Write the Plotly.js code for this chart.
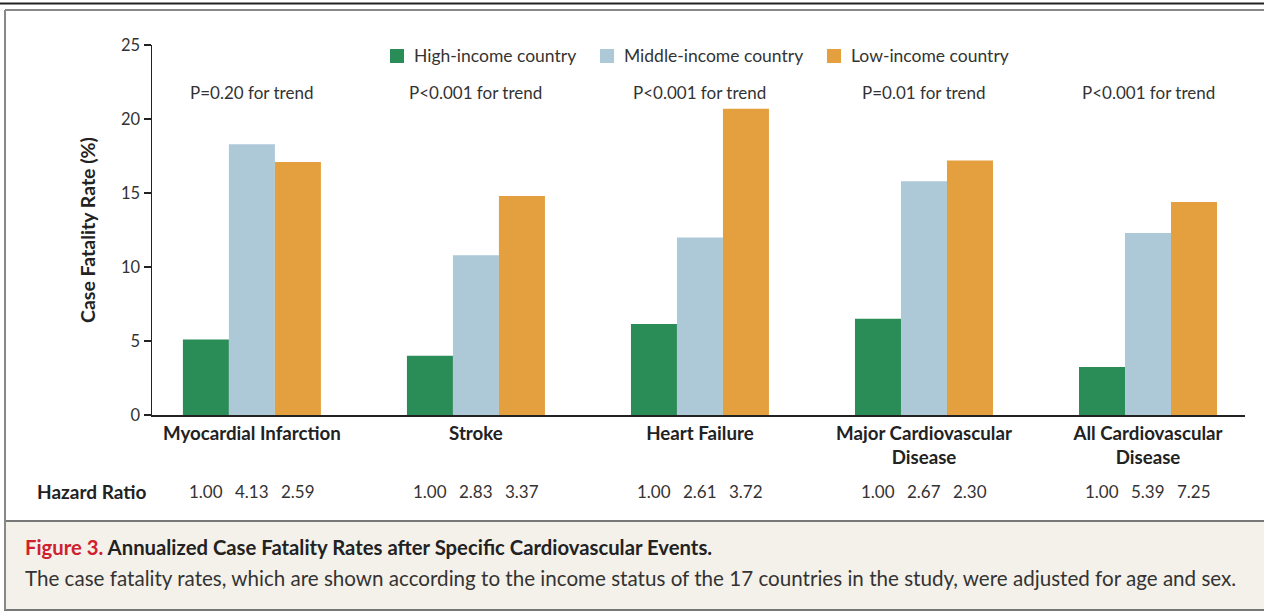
<!DOCTYPE html>
<html>
<head>
<meta charset="utf-8">
<script src="https://cdn.plot.ly/plotly-3.0.1.min.js"></script>
<style>
  html, body { margin: 0; padding: 0; background: #ffffff; }
  #chart { width: 1264px; height: 613px; }
</style>
</head>
<body>
<div id="chart"></div>
<script>
// ---- data ----
const categories = ["Myocardial Infarction", "Stroke", "Heart Failure", "Major Cardiovascular<br>Disease", "All Cardiovascular<br>Disease"];
const seriesNames = ["High-income country", "Middle-income country", "Low-income country"];
const highIncome = [5.1, 4.0, 6.15, 6.5, 3.25];
const middleIncome = [18.3, 10.8, 12.0, 15.8, 12.3];
const lowIncome = [17.1, 14.8, 20.7, 17.2, 14.4];
const pTrend = ["P=0.20 for trend", "P<0.001 for trend", "P<0.001 for trend", "P=0.01 for trend", "P<0.001 for trend"];
const hrHigh = ["1.00", "1.00", "1.00", "1.00", "1.00"];
const hrMiddle = ["4.13", "2.83", "2.61", "2.67", "5.39"];
const hrLow = ["2.59", "3.37", "3.72", "2.30", "7.25"];
const yTicks = [0, 5, 10, 15, 20, 25];

// ---- styling / layout helpers ----
const W = 1264, H = 613;
const L = 152, R = 1245, T = 45, B = 415;
const px = X => (X - L) / (R - L);
const py = Y => (B - Y) / (B - T);
const FONT = "Lato, 'Open Sans', sans-serif";
const TXT = "#333333";
const colors = ["#2a8c57", "#adc9d8", "#e4a03e"];
const barOffset = 0.2054; // one bar width in category units (bargroup of three)
const legendX = [390, 600, 827]; // left edge of each legend swatch (px)

const values = [highIncome, middleIncome, lowIncome];
const traces = values.map((v, i) => ({
  type: "bar",
  name: seriesNames[i],
  x: categories,
  y: v,
  marker: { color: colors[i], line: { width: 0 } },
  hoverinfo: "x+y+name",
  showlegend: false
}));

const annotations = [];
categories.forEach((c, i) => {
  annotations.push({
    x: i, xref: "x", y: py(92), yref: "paper", text: pTrend[i],
    showarrow: false, xanchor: "center", yanchor: "middle",
    font: { family: FONT, size: 17, color: TXT }
  });
  [hrHigh, hrMiddle, hrLow].forEach((arr, k) => {
    annotations.push({
      x: i + (k - 1) * barOffset, xref: "x", y: py(491), yref: "paper", text: arr[i],
      showarrow: false, xanchor: "center", yanchor: "middle",
      font: { family: FONT, size: 17, color: TXT }
    });
  });
});
annotations.push({
  x: px(91), xref: "paper", y: py(491), yref: "paper", text: "Hazard Ratio",
  showarrow: false, xanchor: "center", yanchor: "middle",
  font: { family: FONT, size: 19, color: "#222", weight: 700 }
});
annotations.push({
  x: px(23), xref: "paper", y: py(547), yref: "paper",
  text: "<span style='color:#d0202e'>Figure 3.</span> Annualized Case Fatality Rates after Specific Cardiovascular Events.",
  showarrow: false, xanchor: "left", yanchor: "middle",
  font: { family: FONT, size: 20.3, color: "#222", weight: 700 }
});
annotations.push({
  x: px(23), xref: "paper", y: py(578), yref: "paper",
  text: "The case fatality rates, which are shown according to the income status of the 17 countries in the study, were adjusted for age and sex.",
  showarrow: false, xanchor: "left", yanchor: "middle",
  font: { family: FONT, size: 20.6, color: TXT }
});

const shapes = [
  { type: "line", xref: "paper", yref: "paper", x0: px(0), x1: px(W), y0: py(3.5), y1: py(3.5), line: { color: "#222", width: 2 } },
  { type: "line", xref: "paper", yref: "paper", x0: px(5), x1: px(W), y0: py(10), y1: py(10), line: { color: "#888", width: 2 } },
  { type: "line", xref: "paper", yref: "paper", x0: px(5), x1: px(5), y0: py(10), y1: py(610), line: { color: "#888", width: 2 } },
  { type: "rect", xref: "paper", yref: "paper", x0: px(5), x1: px(W + 5), y0: py(521), y1: py(610), fillcolor: "#f4f1ea", line: { color: "#777", width: 2 }, layer: "below" }
];

// legend: swatch + label for each series
seriesNames.forEach((name, i) => {
  shapes.push({
    type: "rect", xref: "paper", yref: "paper",
    x0: px(legendX[i]), x1: px(legendX[i] + 14), y0: py(49), y1: py(63),
    fillcolor: colors[i], line: { width: 0 }
  });
  annotations.push({
    x: px(legendX[i] + 22), xref: "paper", y: py(55.5), yref: "paper", text: name,
    showarrow: false, xanchor: "left", yanchor: "middle",
    font: { family: FONT, size: 17.5, color: TXT }
  });
});

const layout = {
  width: W, height: H,
  margin: { l: L, r: W - R, t: T, b: H - B, pad: 0 },
  paper_bgcolor: "#ffffff", plot_bgcolor: "rgba(0,0,0,0)",
  font: { family: FONT, color: TXT },
  barmode: "group", bargap: 0.384, bargroupgap: 0,
  showlegend: false,
  xaxis: {
    type: "category", range: [-0.446, 4.433],
    showline: true, linecolor: "#222", linewidth: 1.5,
    ticks: "", showgrid: false, zeroline: false,
    tickfont: { family: FONT, size: 18.7, color: "#222", weight: 700 },
    ticklabelstandoff: 1, fixedrange: true
  },
  yaxis: {
    range: [0, 25], tickvals: yTicks, ticktext: yTicks.map(String),
    showline: true, linecolor: "#222", linewidth: 1.5,
    ticks: "outside", ticklen: 7, tickwidth: 1.5, tickcolor: "#222",
    showgrid: false, zeroline: false,
    tickfont: { family: FONT, size: 16.5, color: TXT },
    title: { text: "Case Fatality Rate (%)", standoff: 20, font: { family: FONT, size: 19.5, color: "#222", weight: 700 } },
    fixedrange: true
  },
  annotations: annotations,
  shapes: shapes
};

Plotly.newPlot("chart", traces, layout, { displayModeBar: false, staticPlot: true });
</script>
</body>
</html>
